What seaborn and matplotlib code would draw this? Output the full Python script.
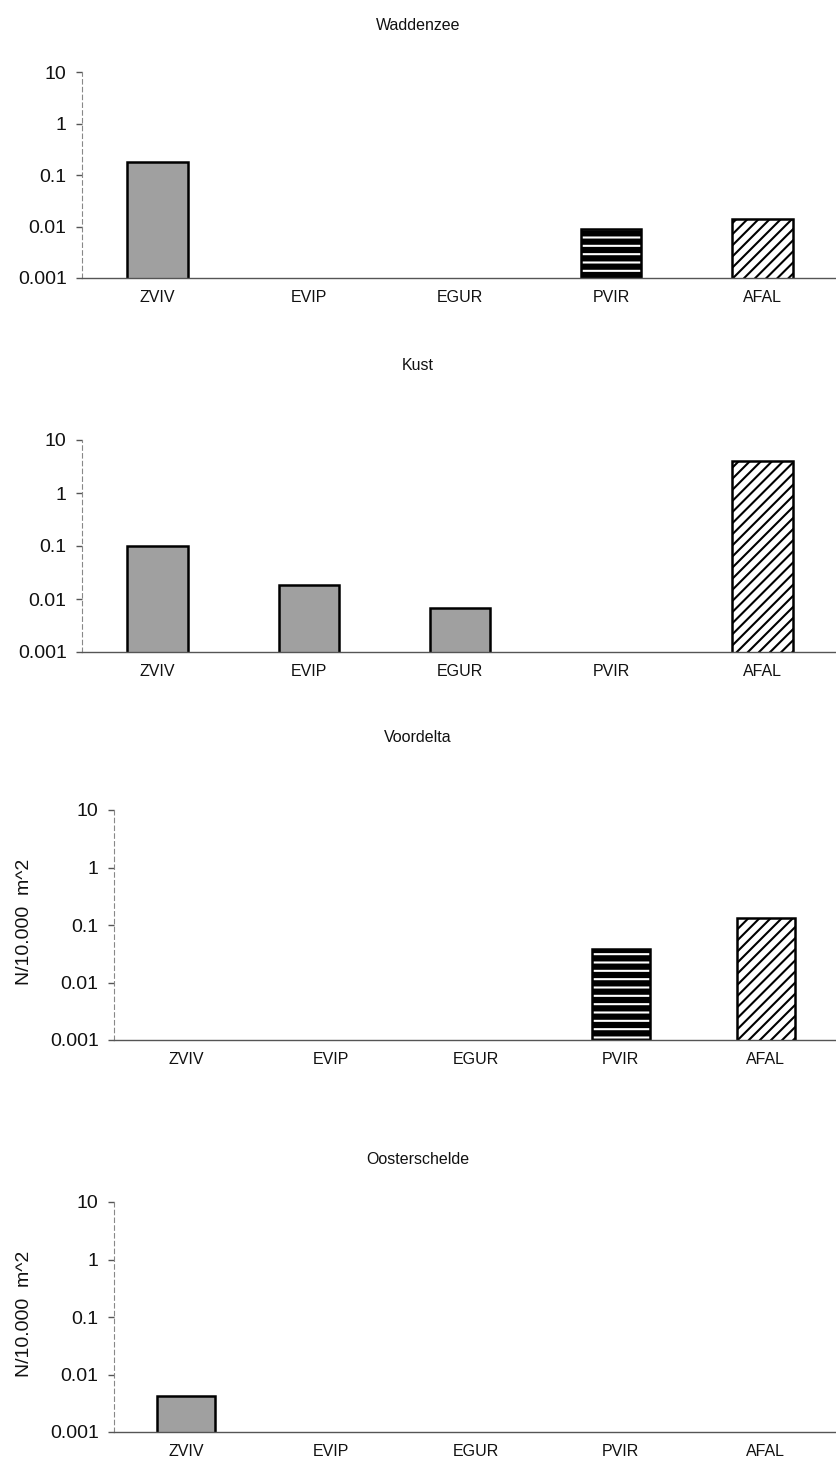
import numpy as np
import pandas as pd
import matplotlib
matplotlib.use("Agg")
import matplotlib.pyplot as plt
import matplotlib.patches as mpatches
import seaborn as sns

# ---- data ----
species = ["ZVIV", "EVIP", "EGUR", "PVIR", "AFAL"]
regions = ["Waddenzee", "Kust", "Voordelta", "Oosterschelde"]
waddenzee = [0.18, np.nan, np.nan, 0.009, 0.014]
kust = [0.1, 0.018, 0.0068, np.nan, 4.0]
voordelta = [np.nan, np.nan, np.nan, 0.039, 0.13]
oosterschelde = [0.0042, np.nan, np.nan, np.nan, np.nan]
region_values = [waddenzee, kust, voordelta, oosterschelde]
ytick_values = [0.001, 0.01, 0.1, 1, 10]
ytick_labels = ["0.001", "0.01", "0.1", "1", "10"]
ylabel_text = "N/10.000  m^2"

sns.set_theme(style="white")
plt.rcParams["font.family"] = ["Liberation Sans", "DejaVu Sans"]
plt.rcParams["hatch.linewidth"] = 1.5

W, H = 836, 1477
fig = plt.figure(figsize=(W / 100, H / 100), dpi=100)

# axes boxes in pixel coords: (left, top, right, bottom)
boxes = [(82, 72, 838, 278), (82, 440, 838, 652), (114, 810, 838, 1040), (114, 1202, 838, 1432)]
title_y = [25, 365, 737, 1160]
show_ylabel = [False, False, True, True]

gray = "#a0a0a0"
palette = {"ZVIV": gray, "EVIP": gray, "EGUR": gray, "PVIR": "black", "AFAL": "white"}

for i, (reg, vals) in enumerate(zip(regions, region_values)):
    l, t, r, b = boxes[i]
    ax = fig.add_axes([l / W, 1 - b / H, (r - l) / W, (b - t) / H])
    df = pd.DataFrame({"species": species, "value": vals})
    ax.set_yscale("log")
    sns.barplot(data=df, x="species", y="value", hue="species", order=species,
                hue_order=species, palette=palette, width=0.4, legend=False,
                edgecolor="black", linewidth=1.8, ax=ax, errorbar=None)
    for p in list(ax.patches):
        idx = int(round(p.get_x() + p.get_width() / 2))
        name = species[idx]
        if name == "PVIR":
            p.set_facecolor("black")
            p.set_edgecolor("white")
            p.set_hatch("--")
            p.set_linewidth(0)
            outline = mpatches.Rectangle((p.get_x(), p.get_y()), p.get_width(), p.get_height(),
                                         fill=False, edgecolor="black", linewidth=1.8, zorder=p.get_zorder() + 0.1)
            ax.add_patch(outline)
        elif name == "AFAL":
            p.set_facecolor("white")
            p.set_hatch("///")
    ax.set_ylim(0.001, 10)
    ax.set_xlim(-0.5, 4.5)
    ax.set_yticks(ytick_values)
    ax.set_yticklabels(ytick_labels)
    ax.minorticks_off()
    ax.tick_params(axis="y", which="major", left=True, length=4, width=1, color="#555555",
                   labelsize=14, pad=7, labelcolor="#111111")
    ax.tick_params(axis="x", length=0, labelsize=11.5, pad=9, labelcolor="#111111")
    ax.set_xlabel("")
    ax.set_ylabel("")
    for s in ["top", "right"]:
        ax.spines[s].set_visible(False)
    ax.spines["left"].set_color("#888888")
    ax.spines["left"].set_linewidth(0.8)
    ax.spines["left"].set_linestyle((0, (4, 3)))
    ax.spines["bottom"].set_color("#555555")
    ax.spines["bottom"].set_linewidth(1.0)
    ax.set_facecolor("white")
    fig.text(418 / W, 1 - title_y[i] / H, reg, ha="center", va="center", fontsize=11.5, color="#111111")
    if show_ylabel[i]:
        fig.text(25 / W, 1 - ((t + b) / 2 - 3) / H, ylabel_text, rotation=90, ha="center",
                 va="center", fontsize=14, color="#111111")

fig.savefig("out.png", dpi=100, facecolor="white")
